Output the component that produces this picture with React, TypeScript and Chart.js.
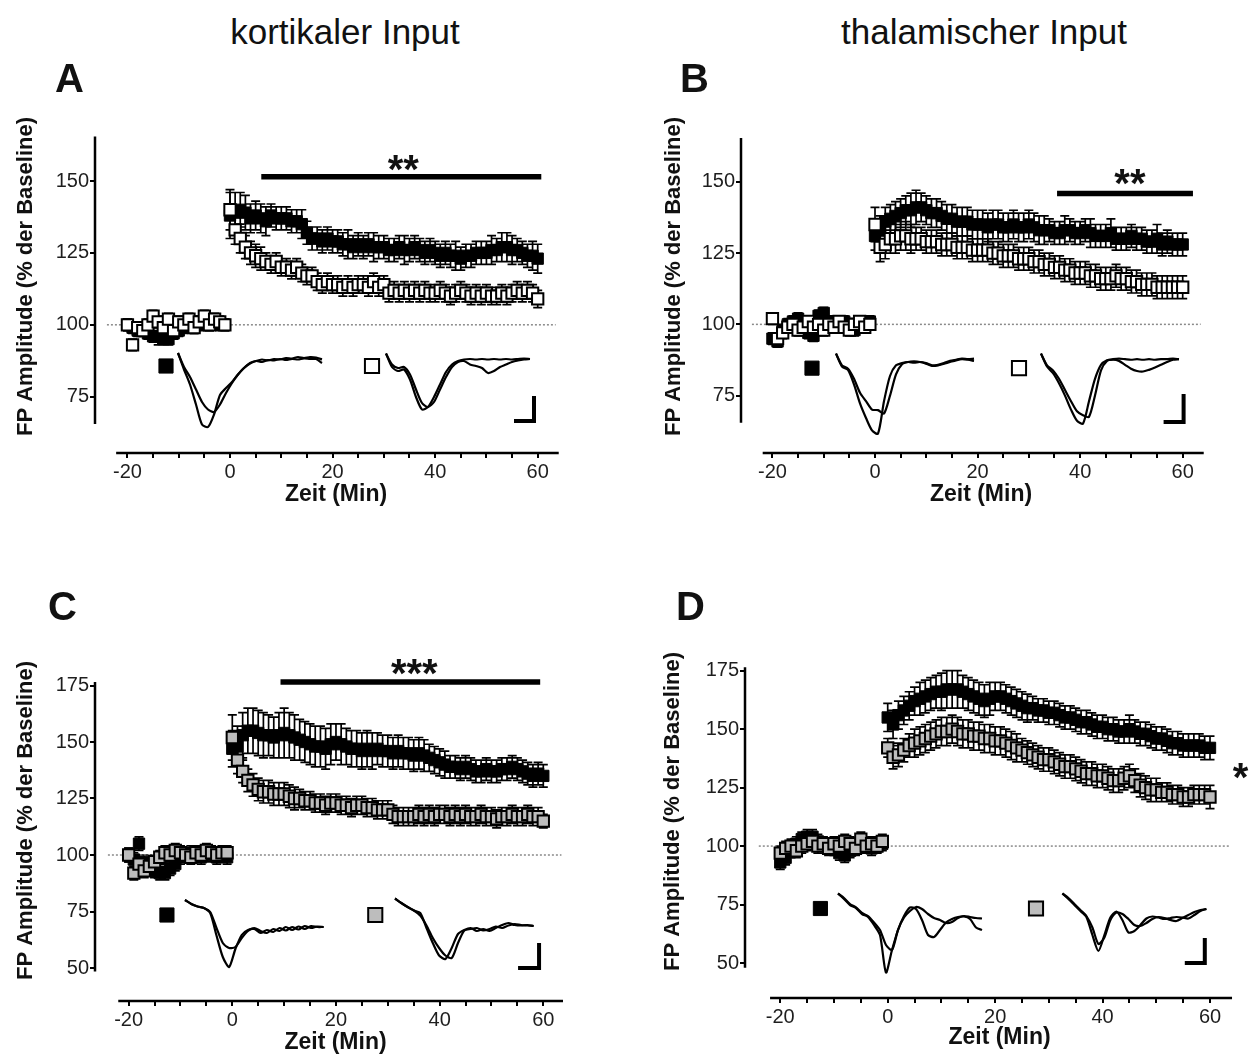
import React, { useEffect, useRef } from "react";
import { Chart, registerables } from "chart.js";

Chart.register(...registerables);

const FONT = "'Liberation Sans', Arial, Helvetica, sans-serif";

// ---------- time axis (minutes) ----------
const TIME = [
  -20, -19, -18, -17, -16, -15, -14, -13, -12, -11, -10, -9, -8, -7, -6, -5, -4, -3, -2, -1,
  0, 1, 2, 3, 4, 5, 6, 7, 8, 9,
  10, 11, 12, 13, 14, 15, 16, 17, 18, 19,
  20, 21, 22, 23, 24, 25, 26, 27, 28, 29,
  30, 31, 32, 33, 34, 35, 36, 37, 38, 39,
  40, 41, 42, 43, 44, 45, 46, 47, 48, 49,
  50, 51, 52, 53, 54, 55, 56, 57, 58, 59,
  60,
];

const X_TICKS = [-20, -15, -10, -5, 0, 5, 10, 15, 20, 25, 30, 35, 40, 45, 50, 55, 60];
const Y_TICKS_AB = [75, 100, 125, 150];
const Y_TICKS_CD = [50, 75, 100, 125, 150, 175];

// ---------- Panel A: kortikaler Input ----------
const A_BLACK = [
  100, 99, 98, 99, 97, 96, 96, 95, 95, 97, 98, 99, 100, 99, 101, 100, 100, 101, 100, 100,
  138, 139, 140, 139, 137, 138, 137, 136, 138, 137,
  137, 137, 136, 136, 135, 132, 130, 130, 129, 130,
  129, 129, 128, 128, 127, 128, 127, 128, 127, 127,
  127, 126, 126, 127, 126, 126, 127, 126, 125, 126,
  125, 124, 125, 124, 124, 123, 124, 124, 125, 125,
  125, 126, 126, 127, 127, 126, 126, 125, 124, 124,
  123,
];
const A_BLACK_SEM = [
  2, 2, 2, 2, 2, 2, 3, 2, 2, 2, 2, 2, 2, 2, 2, 2, 2, 2, 2, 2,
  8, 7, 6, 6, 5, 5, 5, 5, 4, 4,
  4, 4, 4, 4, 5, 4, 4, 4, 4, 4,
  4, 4, 4, 5, 4, 4, 4, 4, 5, 4,
  4, 4, 4, 4, 5, 4, 4, 4, 4, 4,
  4, 4, 4, 4, 5, 4, 4, 4, 4, 4,
  4, 5, 4, 5, 5, 5, 4, 4, 4, 5,
  5,
];
const A_WHITE = [
  100, 93, 99, 98, 100, 103, 101, 99, 102, 98, 101, 100, 102, 99, 101, 103, 100, 102, 101, 100,
  140, 133, 130, 127, 125, 124, 123, 122, 121, 122,
  120, 120, 119, 120, 118, 117, 117, 115, 114, 115,
  114, 114, 113, 114, 113, 114, 114, 113, 115, 113,
  114, 111, 112, 111, 112, 111, 112, 111, 112, 111,
  111, 112, 111, 110, 111, 112, 111, 110, 111, 110,
  111, 110, 110, 111, 110, 111, 112, 111, 112, 111,
  109,
];
const A_WHITE_SEM = [
  2, 2, 2, 2, 2, 2, 2, 2, 2, 2, 2, 2, 2, 2, 2, 2, 2, 2, 2, 2,
  7, 5, 5, 4, 4, 4, 4, 3, 3, 3,
  3, 3, 3, 3, 3, 3, 3, 3, 3, 3,
  3, 3, 3, 3, 3, 3, 3, 3, 3, 3,
  3, 3, 3, 3, 3, 3, 3, 3, 3, 3,
  3, 3, 3, 3, 3, 3, 3, 3, 3, 3,
  3, 3, 3, 3, 3, 3, 3, 3, 3, 3,
  3,
];

// ---------- Panel B: thalamischer Input ----------
const B_BLACK = [
  95, 94, 98, 100, 101, 102, 101, 97, 96, 103, 104, 101, 100, 99, 101, 100, 98, 99, 101, 101,
  131, 133, 136, 137, 138, 139, 140, 140, 141, 141,
  140, 139, 139, 138, 137, 137, 136, 136, 136, 135,
  135, 135, 134, 135, 135, 134, 134, 135, 134, 134,
  135, 134, 133, 133, 133, 132, 132, 133, 133, 132,
  132, 133, 132, 131, 131, 131, 132, 130, 130, 130,
  131, 130, 130, 129, 129, 130, 128, 129, 128, 128,
  128,
];
const B_BLACK_SEM = [
  2, 2, 2, 2, 2, 2, 2, 2, 2, 2, 2, 2, 2, 2, 2, 2, 2, 2, 2, 2,
  5, 5, 5, 5, 5, 5, 5, 6, 6, 5,
  5, 5, 5, 5, 5, 5, 5, 5, 5, 5,
  5, 5, 5, 5, 5, 5, 5, 5, 5, 5,
  5, 5, 5, 5, 4, 4, 4, 5, 4, 4,
  4, 4, 5, 4, 4, 4, 5, 4, 4, 4,
  4, 4, 4, 4, 4, 5, 4, 4, 4, 4,
  4,
];
const B_WHITE = [
  102, 95, 97, 99, 100, 98, 99, 101, 99, 100, 98, 100, 99, 101, 99, 98, 100, 101, 99, 100,
  135, 127, 128, 130, 130, 131, 131, 130, 130, 130,
  129, 129, 129, 128, 128, 128, 127, 127, 127, 126,
  126, 126, 126, 125, 125, 124, 124, 124, 123, 123,
  123, 122, 122, 121, 121, 120, 120, 119, 119, 118,
  118, 118, 117, 117, 116, 116, 116, 117, 116, 116,
  115, 115, 114, 114, 114, 113, 113, 113, 113, 113,
  113,
];
const B_WHITE_SEM = [
  2, 2, 2, 2, 2, 2, 2, 2, 2, 2, 2, 2, 2, 2, 2, 2, 2, 2, 2, 2,
  6, 5, 5, 5, 5, 5, 5, 5, 4, 4,
  4, 4, 4, 4, 4, 4, 4, 4, 4, 4,
  4, 4, 4, 4, 4, 4, 4, 4, 4, 4,
  4, 4, 4, 4, 4, 4, 4, 4, 4, 4,
  4, 4, 4, 4, 4, 4, 4, 4, 4, 4,
  4, 4, 4, 4, 4, 4, 4, 4, 4, 4,
  4,
];

// ---------- Panel C ----------
const C_BLACK = [
  100, 98, 105, 97, 94, 93, 92, 92, 94, 96, 99, 100, 101, 100, 99, 101, 100, 99, 100, 99,
  147, 148, 153, 155, 155, 154, 153, 153, 152, 153,
  154, 153, 152, 151, 150, 149, 148, 148, 147, 149,
  150, 149, 148, 147, 147, 146, 147, 146, 147, 146,
  146, 145, 146, 145, 145, 144, 145, 144, 143, 142,
  141, 140, 139, 139, 138, 139, 138, 137, 137, 138,
  137, 137, 138, 138, 139, 138, 137, 136, 135, 136,
  135,
];
const C_BLACK_SEM = [
  3, 3, 3, 3, 3, 3, 3, 3, 3, 3, 3, 3, 3, 3, 3, 3, 3, 3, 3, 3,
  8, 9, 10, 10, 10, 10, 10, 9, 9, 10,
  11, 10, 10, 9, 9, 9, 9, 9, 9, 9,
  8, 9, 8, 8, 8, 8, 8, 8, 7, 7,
  7, 7, 7, 7, 7, 7, 7, 7, 6, 6,
  6, 6, 5, 5, 5, 5, 5, 5, 5, 5,
  5, 5, 5, 5, 5, 5, 5, 5, 5, 5,
  5,
];
const C_GRAY = [
  100, 92, 96, 93, 95, 97, 99, 101, 100, 102, 101, 100, 99, 101, 100, 102, 101, 100, 101, 101,
  152, 142, 137, 133, 131, 129, 128, 128, 127, 127,
  127, 126, 125, 125, 124, 124, 123, 123, 122, 123,
  123, 122, 122, 121, 122, 122, 121, 121, 120, 120,
  120, 118, 117, 117, 117, 117, 118, 117, 118, 117,
  118, 118, 117, 118, 117, 118, 117, 117, 118, 117,
  117, 116, 117, 117, 118, 117, 117, 118, 117, 117,
  115,
];
const C_GRAY_SEM = [
  3, 3, 3, 3, 3, 3, 3, 3, 3, 3, 3, 3, 3, 3, 3, 3, 3, 3, 3, 3,
  10, 6, 5, 5, 5, 5, 5, 5, 5, 5,
  5, 5, 5, 4, 4, 4, 4, 4, 4, 4,
  4, 4, 4, 4, 4, 4, 4, 4, 4, 4,
  4, 4, 4, 4, 4, 4, 4, 4, 4, 4,
  4, 4, 4, 4, 4, 4, 4, 4, 4, 4,
  4, 4, 4, 4, 4, 4, 4, 4, 4, 4,
  3,
];

// ---------- Panel D ----------
const D_BLACK = [
  93, 95, 98, 101, 103, 104, 104, 102, 101, 100, 99, 97, 96, 98, 100, 101, 100, 99, 100, 101,
  155, 152, 156, 158, 160, 162, 163, 164, 165, 166,
  166, 167, 167, 167, 166, 165, 164, 163, 162, 163,
  164, 164, 163, 162, 161, 160, 159, 159, 158, 158,
  157, 157, 156, 155, 155, 154, 153, 153, 152, 151,
  151, 150, 150, 149, 149, 150, 149, 148, 148, 147,
  146, 146, 145, 144, 144, 143, 143, 143, 143, 142,
  142,
];
const D_BLACK_SEM = [
  3, 3, 3, 3, 3, 3, 3, 3, 3, 3, 3, 3, 3, 3, 3, 3, 3, 3, 3, 3,
  6, 6, 6, 6, 6, 6, 7, 7, 7, 7,
  8, 8, 8, 8, 7, 7, 7, 7, 7, 7,
  6, 6, 6, 6, 6, 6, 6, 5, 5, 5,
  5, 5, 5, 5, 5, 5, 5, 5, 5, 5,
  5, 5, 5, 5, 5, 6, 5, 5, 5, 5,
  5, 5, 5, 5, 5, 5, 5, 5, 5, 5,
  5,
];
const D_GRAY = [
  97, 99, 100, 98, 100, 101, 102, 100, 101, 99, 101, 100, 102, 101, 99, 103, 100, 101, 100, 102,
  142, 138, 139, 141, 143, 144, 145, 146, 147, 148,
  149, 149, 150, 149, 148, 148, 147, 147, 146, 146,
  145, 145, 144, 143, 142, 141, 140, 139, 138, 137,
  137, 136, 135, 134, 134, 133, 132, 131, 131, 130,
  130, 129, 128, 128, 129, 130, 128, 126, 125, 124,
  124, 123, 123, 122, 122, 121, 121, 122, 122, 122,
  121,
];
const D_GRAY_SEM = [
  3, 3, 3, 3, 3, 3, 3, 3, 3, 3, 3, 3, 3, 3, 3, 3, 3, 3, 3, 3,
  4, 5, 5, 5, 5, 6, 6, 6, 6, 6,
  6, 6, 6, 6, 6, 6, 6, 6, 6, 6,
  6, 6, 6, 6, 6, 5, 5, 5, 5, 5,
  5, 5, 5, 5, 5, 5, 5, 5, 5, 5,
  5, 5, 5, 5, 5, 5, 5, 5, 5, 5,
  5, 4, 4, 4, 4, 4, 4, 4, 4, 4,
  5,
];

// ---------- example field potential traces (mV, sampled every 1.5 ms) ----------
const TRACE_DT = 1.5;
const A_TRACE_L1 = [0.18, -0.15, -0.45, -0.85, -1.25, -1.3, -1.05, -0.66, -0.52, -0.4, -0.25, -0.12, -0.03, 0.02, 0.05, 0.03, 0.06, 0.05, 0.08, 0.07, 0.1, 0.08, 0.1, 0.09, 0.05];
const A_TRACE_L2 = [0.18, -0.1, -0.3, -0.55, -0.8, -0.95, -1.0, -0.85, -0.62, -0.42, -0.25, -0.12, -0.02, 0.02, 0.0, 0.04, 0.03, 0.06, 0.04, 0.06, 0.05, 0.07, 0.06, 0.06, -0.02];
const A_TRACE_R1 = [0.17, -0.1, -0.18, -0.15, -0.35, -0.7, -0.95, -0.9, -0.7, -0.45, -0.2, -0.05, 0.02, 0.05, 0.06, 0.05, 0.06, 0.05, 0.06, 0.05, 0.06, 0.05, 0.06, 0.07, 0.06];
const A_TRACE_R2 = [0.17, -0.05, -0.12, -0.1, -0.25, -0.55, -0.82, -0.9, -0.8, -0.55, -0.3, -0.1, 0.0, 0.02, -0.05, -0.08, -0.12, -0.22, -0.18, -0.1, -0.05, 0.0, 0.03, 0.05, 0.06];

const B_TRACE_L1 = [0.15, -0.08, -0.14, -0.4, -0.74, -1.0, -1.22, -1.28, -0.7, -0.25, -0.06, -0.02, 0.0, -0.01, 0.0, -0.02, -0.06, -0.05, -0.02, 0.02, 0.04, 0.06, 0.05, 0.06];
const B_TRACE_L2 = [0.15, -0.06, -0.12, -0.3, -0.55, -0.7, -0.85, -0.86, -0.92, -0.6, -0.22, -0.04, 0.0, 0.01, 0.0, -0.03, -0.07, -0.06, -0.03, 0.0, 0.03, 0.05, 0.04, 0.02];
const B_TRACE_R1 = [0.15, -0.08, -0.2, -0.38, -0.6, -0.85, -1.05, -1.1, -0.7, -0.3, -0.05, 0.03, 0.05, 0.06, 0.05, 0.04, 0.05, 0.04, 0.05, 0.04, 0.05, 0.05, 0.06, 0.05];
const B_TRACE_R2 = [0.15, -0.06, -0.15, -0.3, -0.5, -0.7, -0.88, -0.95, -0.98, -0.6, -0.15, 0.02, 0.04, 0.02, -0.05, -0.12, -0.16, -0.17, -0.14, -0.1, -0.05, 0.0, 0.04, 0.05];

const C_TRACE_L1 = [0.56, 0.48, 0.43, 0.4, 0.3, -0.15, -0.58, -0.78, -0.42, -0.14, -0.04, -0.02, -0.1, -0.04, -0.08, 0.0, -0.05, 0.02, -0.03, 0.04, 0.0, 0.03, 0.02];
const C_TRACE_L2 = [0.56, 0.48, 0.43, 0.4, 0.32, 0.0, -0.3, -0.4, -0.38, -0.2, -0.06, 0.0, -0.06, -0.1, -0.02, -0.06, 0.02, -0.04, 0.03, -0.02, 0.04, 0.02, 0.02];
const C_TRACE_R1 = [0.59, 0.5, 0.42, 0.35, 0.3, 0.0, -0.3, -0.55, -0.62, -0.4, -0.12, -0.04, 0.0, -0.06, -0.02, -0.06, 0.0, 0.06, 0.1, 0.06, 0.05, 0.06, 0.04];
const C_TRACE_R2 = [0.59, 0.5, 0.42, 0.35, 0.25, 0.05, -0.2, -0.4, -0.55, -0.6, -0.3, -0.05, -0.02, 0.0, -0.05, -0.02, 0.03, 0.0, 0.05, 0.08, 0.06, 0.05, 0.04];

const D_TRACE_L1 = [0.53, 0.42, 0.3, 0.24, 0.12, 0.06, -0.1, -0.3, -1.05, -0.6, -0.2, 0.08, 0.25, 0.22, 0.0, -0.3, -0.34, -0.2, -0.05, 0.02, 0.06, 0.07, 0.02, -0.15, -0.2];
const D_TRACE_L2 = [0.53, 0.44, 0.32, 0.25, 0.14, 0.08, -0.05, -0.2, -0.5, -0.6, -0.2, 0.05, 0.18, 0.26, 0.22, 0.12, 0.04, 0.0, -0.06, -0.04, 0.04, 0.08, 0.06, 0.04, 0.03];
const D_TRACE_R1 = [0.53, 0.42, 0.3, 0.18, 0.06, -0.3, -0.62, -0.3, 0.05, 0.17, 0.0, -0.25, -0.22, -0.1, 0.03, 0.07, 0.05, 0.02, 0.04, 0.06, 0.05, 0.03, 0.1, 0.18, 0.22];
const D_TRACE_R2 = [0.53, 0.44, 0.32, 0.2, 0.08, -0.15, -0.48, -0.35, 0.0, 0.15, 0.12, 0.02, -0.1, -0.12, -0.06, 0.02, 0.06, 0.04, 0.0, -0.02, 0.04, 0.1, 0.16, 0.2, 0.22];

// ---------- significance annotations ----------
const A_SIG = { from: 6.1, to: 60.7, y: 151.5, label: "**", lx: 33.8, ly: 157.4 };
const B_SIG = { from: 35.5, to: 62.0, y: 145.9, label: "**", lx: 49.7, ly: 152.7 };
const C_SIG = { from: 9.3, to: 59.4, y: 176.5, label: "***", lx: 35.1, ly: 184.7 };
const D_SIG = { from: null, to: null, y: null, label: "*", lx: 65.7, ly: 133.3 };

// ---------- layout ----------
const PANELS = [
  {
    key: "A",
    canvas: { x: 0, y: 90, w: 577, h: 418 },
    padL: 13, padT: 10, yW: 82, xH: 55,
    xCal: [0, 230, 60, 537.7],
    yCal: [150, 181, 75, 396.7],
    yTicks: Y_TICKS_AB,
    yLine: [65.5, 165.5],
    xLine: [-22.2, 64.1],
    black: A_BLACK, blackSem: A_BLACK_SEM,
    other: A_WHITE, otherSem: A_WHITE_SEM, otherFill: "#ffffff",
    sig: A_SIG,
    inset: { lx: 178, by: 362, k: 4, m: 50, rOff: 52, mL: [-3, -0.08], mR: [-3.5, -0.08], bar: [84, -1.18] },
    traces: [A_TRACE_L1, A_TRACE_L2, A_TRACE_R1, A_TRACE_R2],
  },
  {
    key: "B",
    canvas: { x: 640, y: 90, w: 581, h: 418 },
    padL: 21, padT: 10, yW: 80, xH: 55,
    xCal: [0, 875, 60, 1182.7],
    yCal: [150, 181.7, 75, 395.7],
    yTicks: Y_TICKS_AB,
    yLine: [65.5, 165.3],
    xLine: [-21.9, 64.1],
    black: B_BLACK, blackSem: B_BLACK_SEM,
    other: B_WHITE, otherSem: B_WHITE_SEM, otherFill: "#ffffff",
    sig: B_SIG,
    inset: { lx: 836, by: 362, k: 4, m: 56, rOff: 51.25, mL: [-6, -0.11], mR: [-5.5, -0.11], bar: [81.9, -1.07] },
    traces: [B_TRACE_L1, B_TRACE_L2, B_TRACE_R1, B_TRACE_R2],
  },
  {
    key: "C",
    canvas: { x: 0, y: 620, w: 576, h: 436 },
    padL: 13, padT: 20, yW: 82, xH: 55,
    xCal: [0, 232.3, 60, 543.3],
    yCal: [175, 685.5, 50, 968],
    yTicks: Y_TICKS_CD,
    yLine: [48.5, 176.5],
    xLine: [-22, 63.8],
    black: C_BLACK, blackSem: C_BLACK_SEM,
    other: C_GRAY, otherSem: C_GRAY_SEM, otherFill: "#bdbdbd",
    sig: C_SIG,
    inset: { lx: 185, by: 928, k: 4.2, m: 50, rOff: 50, mL: [-4.3, 0.26], mR: [-4.7, 0.26], bar: [79.3, -0.8] },
    traces: [C_TRACE_L1, C_TRACE_L2, C_TRACE_R1, C_TRACE_R2],
  },
  {
    key: "D",
    canvas: { x: 640, y: 605, w: 614, h: 446 },
    padL: 20, padT: 20, yW: 85, xH: 53,
    xCal: [0, 887.7, 60, 1210],
    yCal: [175, 670.7, 50, 963],
    yTicks: Y_TICKS_CD,
    yLine: [48, 176.5],
    xLine: [-21.9, 64.1],
    black: D_BLACK, blackSem: D_BLACK_SEM,
    other: D_GRAY, otherSem: D_GRAY_SEM, otherFill: "#bdbdbd",
    sig: D_SIG,
    inset: { lx: 838, by: 920, k: 4, m: 50, rOff: 56.1, mL: [-4.4, 0.23], mR: [-6.6, 0.23], bar: [86.7, -0.86] },
    traces: [D_TRACE_L1, D_TRACE_L2, D_TRACE_R1, D_TRACE_R2],
  },
];

const BASELINE_LINE = [-24, 63.5];
const SIG_FONT = 40;

function makePlugin(p: any) {
  return {
    id: "prism" + p.key,
    beforeDatasetsDraw(chart: any) {
      const { ctx, chartArea } = chart;
      const xs = chart.scales.x;
      const ys = chart.scales.y;
      ctx.save();
      ctx.strokeStyle = "#000";
      ctx.lineCap = "butt";
      ctx.lineWidth = 2.5;
      ctx.beginPath();
      ctx.moveTo(chartArea.left, ys.getPixelForValue(p.yLine[0]));
      ctx.lineTo(chartArea.left, ys.getPixelForValue(p.yLine[1]));
      ctx.moveTo(xs.getPixelForValue(p.xLine[0]), chartArea.bottom);
      ctx.lineTo(xs.getPixelForValue(p.xLine[1]), chartArea.bottom);
      ctx.stroke();
      // error bars (mean ± SEM)
      ctx.lineWidth = 1.7;
      const cap = 4.5;
      const series = [
        [p.black, p.blackSem],
        [p.other, p.otherSem],
      ];
      for (const [mean, sem] of series) {
        ctx.beginPath();
        for (let i = 0; i < TIME.length; i++) {
          const x = xs.getPixelForValue(TIME[i]);
          const yt = ys.getPixelForValue(mean[i] + sem[i]);
          const yb = ys.getPixelForValue(mean[i] - sem[i]);
          ctx.moveTo(x, yt);
          ctx.lineTo(x, yb);
          ctx.moveTo(x - cap, yt);
          ctx.lineTo(x + cap, yt);
          ctx.moveTo(x - cap, yb);
          ctx.lineTo(x + cap, yb);
        }
        ctx.stroke();
      }
      ctx.restore();
    },
    afterDraw(chart: any) {
      const { ctx } = chart;
      const xs = chart.scales.x;
      const ys = chart.scales.y;
      ctx.save();
      ctx.fillStyle = "#111";
      ctx.font = `bold ${SIG_FONT}px ${FONT}`;
      ctx.textAlign = "center";
      ctx.textBaseline = "alphabetic";
      ctx.fillText(p.sig.label, xs.getPixelForValue(p.sig.lx), ys.getPixelForValue(p.sig.ly) + 0.575 * SIG_FONT);
      ctx.restore();
    },
  };
}

function buildChart(canvas: HTMLCanvasElement, p: any) {
  const area = {
    left: p.canvas.x + p.padL + p.yW,
    top: p.canvas.y + p.padT,
    right: p.canvas.x + p.canvas.w,
    bottom: p.canvas.y + p.canvas.h - p.xH,
  };
  const [xv1, xp1, xv2, xp2] = p.xCal;
  const xppu = (xp2 - xp1) / (xv2 - xv1);
  const xMin = xv1 + (area.left - xp1) / xppu;
  const xMax = xv1 + (area.right - xp1) / xppu;
  const [yv1, yp1, yv2, yp2] = p.yCal;
  const yppu = (yp2 - yp1) / (yv2 - yv1);
  const yMax = yv1 + (area.top - yp1) / yppu;
  const yMin = yv1 + (area.bottom - yp1) / yppu;

  const ins = p.inset;
  const ixMin = (area.left - ins.lx) / ins.k;
  const ixMax = (area.right - ins.lx) / ins.k;
  const iyMin = (ins.by - area.bottom) / ins.m;
  const iyMax = (ins.by - area.top) / ins.m;

  const pts = (arr: number[]) => TIME.map((t, i) => ({ x: t, y: arr[i] }));
  const trace = (arr: number[], off: number) => arr.map((v, i) => ({ x: off + i * TRACE_DT, y: v }));

  const traceDs = (arr: number[], off: number) => ({
    data: trace(arr, off),
    xAxisID: "ix",
    yAxisID: "iy",
    showLine: true,
    pointRadius: 0,
    borderColor: "#000",
    borderWidth: 2.2,
    tension: 0.25,
    order: 1,
  });

  const datasets: any[] = [
    {
      data: pts(p.other),
      pointStyle: "rect",
      pointRadius: 8,
      pointBackgroundColor: p.otherFill,
      pointBorderColor: "#000",
      pointBorderWidth: 2,
      showLine: false,
      order: 2,
    },
    {
      data: pts(p.black),
      pointStyle: "rect",
      pointRadius: 8,
      pointBackgroundColor: "#000",
      pointBorderColor: "#000",
      pointBorderWidth: 1,
      showLine: false,
      order: 3,
    },
    traceDs(p.traces[0], 0),
    traceDs(p.traces[1], 0),
    traceDs(p.traces[2], ins.rOff),
    traceDs(p.traces[3], ins.rOff),
    {
      data: [{ x: ins.mL[0], y: ins.mL[1] }],
      xAxisID: "ix",
      yAxisID: "iy",
      pointStyle: "rect",
      pointRadius: 10,
      pointBackgroundColor: "#000",
      pointBorderColor: "#000",
      pointBorderWidth: 1,
      order: 1,
    },
    {
      data: [{ x: ins.rOff + ins.mR[0], y: ins.mR[1] }],
      xAxisID: "ix",
      yAxisID: "iy",
      pointStyle: "rect",
      pointRadius: 10,
      pointBackgroundColor: p.otherFill,
      pointBorderColor: "#000",
      pointBorderWidth: 2,
      order: 1,
    },
    {
      data: [
        { x: ins.bar[0], y: ins.bar[1] },
        { x: ins.bar[0] + 5, y: ins.bar[1] },
        { x: ins.bar[0] + 5, y: ins.bar[1] + 0.5 },
      ],
      xAxisID: "ix",
      yAxisID: "iy",
      showLine: true,
      pointRadius: 0,
      borderColor: "#000",
      borderWidth: 4,
      borderJoinStyle: "miter",
      borderCapStyle: "butt",
      order: 1,
    },
    {
      data: [
        { x: BASELINE_LINE[0], y: 100 },
        { x: BASELINE_LINE[1], y: 100 },
      ],
      showLine: true,
      pointRadius: 0,
      borderColor: "#8a8a8a",
      borderWidth: 1.5,
      borderDash: [2, 2],
      order: 10,
    },
  ];
  if (p.sig.from !== null) {
    datasets.push({
      data: [
        { x: p.sig.from, y: p.sig.y },
        { x: p.sig.to, y: p.sig.y },
      ],
      showLine: true,
      pointRadius: 0,
      borderColor: "#000",
      borderWidth: 5.5,
      borderCapStyle: "butt",
      order: 1,
    });
  }

  const tickFont = { family: FONT, size: 20, lineHeight: 1 };

  return new Chart(canvas, {
    type: "scatter",
    data: { datasets },
    options: {
      responsive: false,
      maintainAspectRatio: false,
      animation: false,
      devicePixelRatio: 1,
      events: [],
      layout: { autoPadding: false, padding: { left: p.padL, top: p.padT, right: 0, bottom: 0 } },
      plugins: {
        legend: { display: false },
        tooltip: { enabled: false },
        title: { display: false },
      },
      scales: {
        x: {
          type: "linear",
          position: "bottom",
          min: xMin,
          max: xMax,
          afterBuildTicks: (axis: any) => {
            axis.ticks = X_TICKS.map((v) => ({ value: v }));
          },
          afterFit: (s: any) => {
            s.height = p.xH;
            s.paddingLeft = 0;
            s.paddingRight = 0;
          },
          border: { display: false },
          grid: {
            drawOnChartArea: false,
            drawTicks: true,
            tickLength: 5,
            color: "#000",
            tickColor: "#000",
            lineWidth: 2,
            tickWidth: 2,
          },
          ticks: {
            autoSkip: false,
            maxRotation: 0,
            minRotation: 0,
            padding: 4,
            color: "#1e1e1e",
            font: tickFont,
            callback: (v: any) => (Number(v) % 20 === 0 ? String(v) : ""),
          },
          title: {
            display: true,
            text: "Zeit (Min)",
            color: "#111",
            font: { family: FONT, size: 23, weight: "bold", lineHeight: 1.2 },
            padding: 0,
          },
        },
        y: {
          type: "linear",
          position: "left",
          min: yMin,
          max: yMax,
          afterBuildTicks: (axis: any) => {
            axis.ticks = p.yTicks.map((v: number) => ({ value: v }));
          },
          afterFit: (s: any) => {
            s.width = p.yW;
            s.paddingTop = 0;
            s.paddingBottom = 0;
          },
          border: { display: false },
          grid: {
            drawOnChartArea: false,
            drawTicks: true,
            tickLength: 5,
            color: "#000",
            tickColor: "#000",
            lineWidth: 2,
            tickWidth: 2,
          },
          ticks: {
            autoSkip: false,
            padding: 1,
            color: "#1e1e1e",
            font: tickFont,
            callback: (v: any) => String(v),
          },
          title: {
            display: true,
            text: "FP Amplitude (% der Baseline)",
            color: "#111",
            font: { family: FONT, size: 22, weight: "bold", lineHeight: 1.2 },
            padding: 0,
          },
        },
        ix: { type: "linear", axis: "x", position: "bottom", display: false, min: ixMin, max: ixMax },
        iy: { type: "linear", axis: "y", position: "left", display: false, min: iyMin, max: iyMax },
      },
    } as any,
    plugins: [makePlugin(p)],
  } as any);
}

const HEADINGS = [
  { text: "kortikaler Input", cx: 345, top: 13.7 },
  { text: "thalamischer Input", cx: 984, top: 13.7 },
];
const LETTERS = [
  { text: "A", left: 55, top: 57.8 },
  { text: "B", left: 680, top: 57.8 },
  { text: "C", left: 48, top: 585.6 },
  { text: "D", left: 676, top: 585.6 },
];

export default function App() {
  const r0 = useRef<HTMLCanvasElement>(null);
  const r1 = useRef<HTMLCanvasElement>(null);
  const r2 = useRef<HTMLCanvasElement>(null);
  const r3 = useRef<HTMLCanvasElement>(null);
  const refs = [r0, r1, r2, r3];

  useEffect(() => {
    const charts = PANELS.map((p, i) => buildChart(refs[i].current as HTMLCanvasElement, p));
    return () => charts.forEach((c) => c.destroy());
  }, []);

  return (
    <div
      style={{
        position: "absolute",
        left: 0,
        top: 0,
        width: 1256,
        height: 1064,
        background: "#fff",
        overflow: "hidden",
        fontFamily: FONT,
        color: "#111",
      }}
    >
      {PANELS.map((p, i) => (
        <canvas
          key={p.key}
          ref={refs[i]}
          width={p.canvas.w}
          height={p.canvas.h}
          style={{ position: "absolute", left: p.canvas.x, top: p.canvas.y, width: p.canvas.w, height: p.canvas.h }}
        />
      ))}
      {HEADINGS.map((h) => (
        <div
          key={h.text}
          style={{
            position: "absolute",
            left: h.cx - 300,
            width: 600,
            top: h.top,
            textAlign: "center",
            fontSize: 35,
            lineHeight: 1,
            whiteSpace: "nowrap",
          }}
        >
          {h.text}
        </div>
      ))}
      {LETTERS.map((l) => (
        <div
          key={l.text}
          style={{
            position: "absolute",
            left: l.left,
            top: l.top,
            fontSize: 40,
            fontWeight: "bold",
            lineHeight: 1,
          }}
        >
          {l.text}
        </div>
      ))}
    </div>
  );
}
